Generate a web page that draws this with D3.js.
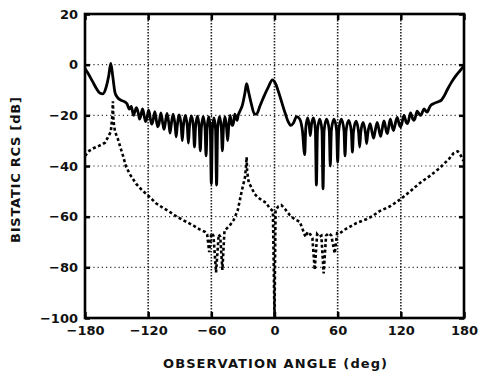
<!DOCTYPE html>
<html>
<head>
<meta charset="utf-8">
<script src="https://cdn.jsdelivr.net/npm/d3@7"></script>
<style>
  body { margin: 0; background: #fff; }
  text { font-family: "DejaVu Sans", sans-serif; font-weight: bold; fill: #111; }
</style>
</head>
<body>
<div id="chart"></div>
<script>
const xTicks = [-180, -120, -60, 0, 60, 120, 180];
const yTicks = [20, 0, -20, -40, -60, -80, -100];
const xGrid = [-120, -60, 0, 60, 120];
const yGrid = [0, -20, -40, -60, -80];

// solid curve: [angle deg, RCS dB]
const solidPts = [
  [-180, -1.5], [-177, -3.5], [-173, -6.5], [-169, -9.5], [-166, -11.2], [-163, -11.5],
  [-160, -9], [-157.5, -4.5], [-155.5, 0.5], [-153.5, -5], [-151.5, -11], [-149, -13],
  [-146, -14], [-143, -14.5], [-140, -15.5], [-138, -17.5], [-136, -16.5],
  [-134, -20], [-133, -19], [-131.1, -17], [-129.2, -19.5],
  [-128.2, -21.5], [-127.2, -20.5], [-125.3, -17.5], [-123.4, -21],
  [-122.4, -22.5], [-121.4, -21.5], [-119.5, -18], [-117.6, -22],
  [-116.6, -23.5], [-115.6, -22.5], [-113.7, -18.5], [-111.8, -23],
  [-110.8, -24.5], [-109.8, -23.5], [-107.9, -19], [-106, -23.5],
  [-105, -25.5], [-104, -23.7], [-102.1, -19.2], [-100.2, -23.7],
  [-99.2, -27], [-98.2, -24], [-96.3, -19.5], [-94.4, -24],
  [-93.4, -28.5], [-92.4, -24.3], [-90.5, -19.8], [-88.6, -24.3],
  [-87.6, -30], [-86.6, -24.5], [-84.7, -20], [-82.8, -24.5],
  [-81.8, -31], [-80.8, -24.7], [-78.9, -20.2], [-77, -24.7],
  [-76, -32.5], [-75, -24.8], [-73.2, -20.3], [-71.5, -24.8],
  [-70.5, -34], [-69.5, -25], [-67.7, -20.5], [-66, -25],
  [-65, -36], [-64, -25], [-62.5, -20.5], [-61, -25],
  [-60, -47], [-59, -25.5], [-57.5, -21], [-56, -25.5],
  [-55, -47.5], [-54, -25], [-52.2, -20.5], [-50.5, -25],
  [-49.5, -34], [-48.5, -25], [-47, -20.5], [-45.5, -25],
  [-44.5, -30], [-43.5, -24.5], [-42.2, -20], [-41, -23],
  [-40, -24], [-39, -23], [-37.7, -19.5], [-36.5, -21],
  [-35.5, -22], [-34.5, -20], [-33, -18.5], [-30.5, -16], [-28, -11],
  [-26.5, -7.5], [-24.5, -11], [-22, -15.5], [-19, -19.5], [-17, -19.5], [-14, -16.5],
  [-10, -12.5], [-6, -9], [-2, -6], [1, -7.5], [4, -11], [7, -15], [10, -19],
  [13, -22.5], [15.5, -24], [18, -23], [21, -20.5], [24, -21.5], [26.5, -26],
  [28.7, -35.5], [29.7, -25], [31.5, -21], [33, -24], [34, -28], [35, -24],
  [37, -21], [38.8, -25.5], [39.8, -47.5], [40.8, -26],
  [43, -21.5], [45.1, -26], [46.1, -49], [47.1, -26],
  [49.5, -21.5], [52, -26], [53, -40], [54, -26],
  [56.5, -21.5], [59, -26], [60, -38.5], [61, -26],
  [63.5, -21.5], [66, -26], [67, -36], [68, -26],
  [70.5, -22], [73, -26.5], [74, -34.5], [75, -26.5],
  [77.5, -22.3], [79.9, -26.8], [80.9, -32.5], [81.9, -26.8],
  [84.2, -22.8], [86.5, -27.3], [87.5, -31.2], [88.5, -27.5],
  [90.8, -23.3], [93.1, -27.5], [94.1, -29], [95.1, -27.3],
  [97.5, -22.8], [99.8, -26.8], [100.8, -28.3], [101.8, -26.5],
  [104, -22.2], [106.1, -26], [107.1, -27.2], [108.1, -25.5],
  [110, -21.5], [112.1, -25], [113.1, -26], [114.1, -24.5],
  [116.5, -20.8], [118.8, -24], [119.8, -24.6], [120.8, -23.5],
  [123, -20], [125.1, -22.8], [126.1, -23.3], [127.1, -22.5],
  [129.2, -19], [131.4, -21.5], [132.4, -22], [133.4, -21.3],
  [135.5, -18.3], [137.7, -19.7], [138.7, -20], [139.7, -19.5],
  [142, -17.5], [144.1, -18.5], [145.1, -18.7], [146.1, -18],
  [148, -16.3], [151, -15.4], [155, -14.7], [158.5, -14], [161, -12.5], [164, -10],
  [168, -7], [172, -4.5], [176, -2.5], [180, -0.5]
];

// dashed curve: [angle deg, RCS dB]
const dashPts = [
  [-180, -36], [-176, -34], [-172, -33], [-168, -32.3], [-164, -31.5], [-161, -30.8],
  [-158, -28.5], [-155.5, -26.5], [-154, -20], [-153.5, -14.5], [-153, -22], [-151.5, -26.5],
  [-149, -29], [-146.5, -32.5], [-144, -35.8], [-141, -40.3], [-137, -43.5], [-131.5, -47],
  [-126, -49.5], [-120.5, -51.5], [-112.5, -54.7], [-106, -56.5], [-100, -58], [-92, -60.2],
  [-84, -62], [-77, -63.5], [-73, -64.6], [-69, -65.5], [-66, -66], [-64, -67],
  [-62, -74], [-60, -66.5], [-58, -67.5], [-55.5, -82], [-53, -67], [-51.5, -68],
  [-49.5, -81], [-47.5, -65.5], [-45, -64.5], [-42.5, -63.5], [-39, -61.5], [-35, -57.6],
  [-31, -49.7], [-28, -44.4], [-27, -40], [-26.5, -36.5], [-26, -42], [-24.5, -46.5],
  [-22, -48.4], [-19, -51], [-16, -52.3], [-12, -53.5], [-8, -54.5], [-4.5, -56.7],
  [-1.5, -57.8], [0, -100], [1, -57.5], [3.5, -56], [6.5, -55.4], [10, -57],
  [14.5, -59.4], [19, -61], [24, -62], [27, -65.3], [29.5, -68], [31.5, -66],
  [34, -67], [36, -68.5], [38.2, -81], [40.5, -67], [42.5, -68], [44.5, -67.5],
  [46.7, -82.4], [49, -67.5], [51.5, -66.5], [54, -67.5], [57.2, -74.5], [59.5, -66.5],
  [62, -66.6], [66, -65.3], [71.4, -64], [78, -62.5], [87.2, -61], [93, -59.8],
  [99.8, -57.8], [109.3, -56], [118.8, -53.4], [128.3, -50.2], [137.8, -46.8], [147.3, -44],
  [156.7, -40.9], [166.2, -37], [170, -35], [174, -34.2], [176.5, -35.5], [179, -37.6],
  [180, -38]
];

const width = 481, height = 380;
const mLeft = 85, mRight = 464, mTop = 14, mBottom = 318;

const svg = d3.select("#chart")
  .append("svg")
  .attr("width", width)
  .attr("height", height);

const x = d3.scaleLinear().domain([-180, 180]).range([mLeft, mRight]);
const y = d3.scaleLinear().domain([-100, 20]).range([mBottom, mTop]);

svg.append("clipPath").attr("id", "plot")
  .append("rect")
  .attr("x", mLeft).attr("y", mTop)
  .attr("width", mRight - mLeft).attr("height", mBottom - mTop);

// grid lines
svg.append("g")
  .selectAll("line")
  .data(xGrid)
  .enter()
  .append("line")
  .attr("x1", d => x(d)).attr("x2", d => x(d))
  .attr("y1", mTop).attr("y2", mBottom)
  .attr("stroke", "#222")
  .attr("stroke-width", 1.6)
  .attr("stroke-dasharray", "1.6,1.4");

svg.append("g")
  .selectAll("line")
  .data(yGrid)
  .enter()
  .append("line")
  .attr("x1", mLeft).attr("x2", mRight)
  .attr("y1", d => y(d)).attr("y2", d => y(d))
  .attr("stroke", "#333")
  .attr("stroke-width", 1.2)
  .attr("stroke-dasharray", "1.2,3");

// axes, ticks pointing inwards
svg.append("g")
  .attr("transform", "translate(0," + mBottom + ")")
  .call(d3.axisBottom(x).tickValues(xTicks).tickSize(-6).tickPadding(8));

svg.append("g")
  .attr("transform", "translate(0," + mTop + ")")
  .call(d3.axisTop(x).tickValues(xTicks).tickSize(-6).tickFormat(""));

svg.append("g")
  .attr("transform", "translate(" + mLeft + ",0)")
  .call(d3.axisLeft(y).tickValues(yTicks).tickSize(-5).tickPadding(7));

svg.append("g")
  .attr("transform", "translate(" + mRight + ",0)")
  .call(d3.axisRight(y).tickValues(yTicks).tickSize(-5).tickFormat(""));

svg.selectAll(".domain").remove();
svg.selectAll(".tick line").attr("stroke", "#000").attr("stroke-width", 2.5);
svg.selectAll(".tick text")
  .style("font-family", "'DejaVu Sans', sans-serif")
  .style("font-weight", "bold")
  .style("font-size", "13px")
  .attr("fill", "#111");

// frame
svg.append("rect")
  .attr("x", mLeft).attr("y", mTop)
  .attr("width", mRight - mLeft).attr("height", mBottom - mTop)
  .attr("fill", "none")
  .attr("stroke", "#000")
  .attr("stroke-width", 2.6);

const dashLine = d3.line()
  .x(d => x(d[0]))
  .y(d => y(d[1]));

const solidLine = d3.line()
  .x(d => x(d[0]))
  .y(d => y(d[1]))
  .curve(d3.curveMonotoneX);

svg.append("path")
  .datum(dashPts)
  .attr("clip-path", "url(#plot)")
  .attr("d", dashLine)
  .attr("fill", "none")
  .attr("stroke", "#000")
  .attr("stroke-width", 2.6)
  .attr("stroke-dasharray", "3,2.5");

svg.append("path")
  .datum(solidPts)
  .attr("clip-path", "url(#plot)")
  .attr("d", solidLine)
  .attr("fill", "none")
  .attr("stroke", "#000")
  .attr("stroke-width", 2.8)
  .attr("stroke-linejoin", "round");

// axis titles
svg.append("text")
  .attr("x", 275)
  .attr("y", 368)
  .attr("text-anchor", "middle")
  .attr("textLength", 224)
  .style("font-size", "13px")
  .text("OBSERVATION ANGLE  (deg)");

svg.append("text")
  .attr("transform", "translate(20,170) rotate(-90)")
  .attr("text-anchor", "middle")
  .attr("textLength", 146)
  .style("font-size", "13px")
  .text("BISTATIC RCS  [dB]");
</script>
</body>
</html>
